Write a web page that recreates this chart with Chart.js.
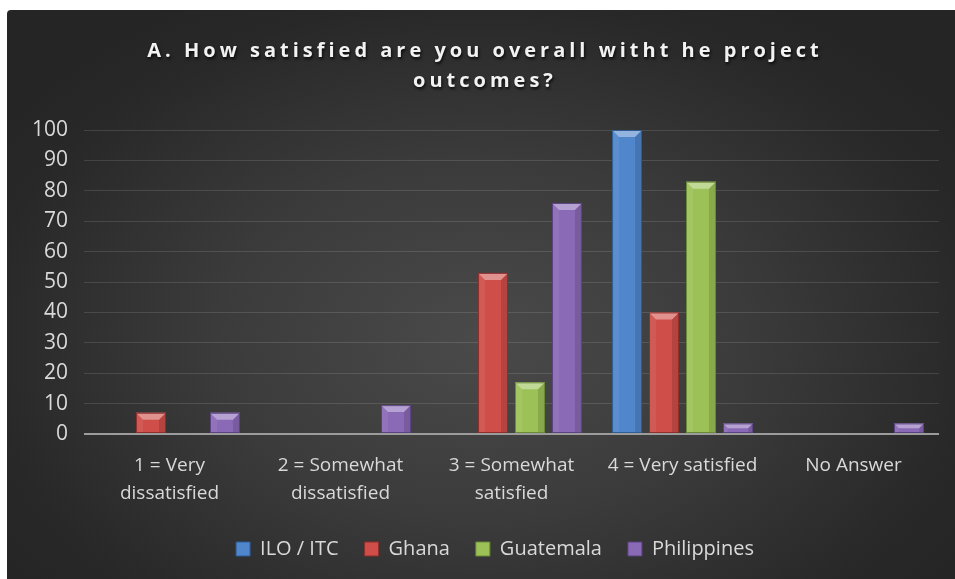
<!DOCTYPE html>
<html>
<head>
<meta charset="utf-8">
<script src="https://cdn.jsdelivr.net/npm/chart.js@4.4.1/dist/chart.umd.min.js"></script>
<style>
  html, body { margin:0; padding:0; background:#fff; }
  #box {
    position:absolute; left:7px; top:10px; width:948px; height:569px;
    border-radius:4px 0 0 0;
    background: radial-gradient(ellipse 62% 70% at 50% 58%, #4a4a4a 0%, #3b3b3b 45%, #282828 85%, #252525 100%);
  }
  #chart { display:block; }
</style>
</head>
<body>
<div id="box"><canvas id="chart" width="948" height="569"></canvas></div>
<script>
// ===== data =====
const categories = [
  ['1 = Very', 'dissatisfied'],
  ['2 = Somewhat', 'dissatisfied'],
  ['3 = Somewhat', 'satisfied'],
  '4 = Very satisfied',
  'No Answer'
];
const seriesNames = ['ILO / ITC', 'Ghana', 'Guatemala', 'Philippines'];
const iloItc      = [0, 0, 0, 100, 0];
const ghana       = [7, 0, 53, 40, 0];
const guatemala   = [0, 0, 17, 83, 0];
const philippines = [7, 9.5, 76, 3.5, 3.5];
const yTicks = [0, 10, 20, 30, 40, 50, 60, 70, 80, 90, 100];

const fills   = ['#4f86cc', '#cf4e49', '#9cc257', '#8a69b6'];
const borders = ['#2f5d93', '#8e2f2c', '#6b8a36', '#5b4280'];
const FONT = '"Open Sans", "Noto Sans", sans-serif';

// shift a layout box sideways when drawn (original is slightly off-centre)
function patchBox(chart, box, dx, extra){
  if(!box || box._patched) return;
  const orig = box.draw.bind(box);
  box.draw = function(area){
    const c = chart.ctx;
    c.save();
    c.translate(dx, 0);
    if(extra) extra(c);
    orig(area);
    c.restore();
  };
  box._patched = true;
}

// ===== bevel look on bars + spaced title =====
const bevelPlugin = {
  id: 'bevel',
  beforeDraw(chart){
    patchBox(chart, chart.titleBlock, 12, c=>{
      c.letterSpacing = '4px';
      c.shadowColor = 'rgba(0,0,0,0.8)';
      c.shadowOffsetX = 1; c.shadowOffsetY = 2; c.shadowBlur = 3;
    });
    patchBox(chart, chart.legend, 22);
  },
  afterDatasetsDraw(chart){
    const c = chart.ctx;
    chart.data.datasets.forEach((ds, di)=>{
      const meta = chart.getDatasetMeta(di);
      meta.data.forEach(bar=>{
        const h = bar.base - bar.y;
        if(h <= 0.5) return;
        const l = bar.x - bar.width/2, r = bar.x + bar.width/2, t = bar.y, b = bar.base;
        const bv = Math.min(7, h/2);
        c.save();
        c.fillStyle = 'rgba(255,255,255,0.07)';
        c.beginPath(); c.moveTo(l,t); c.lineTo(l+bv,t+bv); c.lineTo(l+bv,b); c.lineTo(l,b); c.closePath(); c.fill();
        c.fillStyle = 'rgba(0,0,0,0.12)';
        c.beginPath(); c.moveTo(r,t); c.lineTo(r-bv,t+bv); c.lineTo(r-bv,b); c.lineTo(r,b); c.closePath(); c.fill();
        c.fillStyle = 'rgba(255,255,255,0.38)';
        c.beginPath(); c.moveTo(l,t); c.lineTo(r,t); c.lineTo(r-bv,t+bv); c.lineTo(l+bv,t+bv); c.closePath(); c.fill();
        c.strokeStyle = borders[di];
        c.lineWidth = 1;
        c.strokeRect(l+0.5, t+0.5, bar.width-1, h-1);
        c.restore();
      });
    });
  }
};

const seriesData = [iloItc, ghana, guatemala, philippines];
const datasets = seriesNames.map((name, i)=>({
  label: name,
  data: seriesData[i],
  backgroundColor: fills[i],
  borderColor: borders[i],
  borderWidth: 0,
  categoryPercentage: 0.865,
  barPercentage: 0.81
}));

Chart.defaults.font.family = FONT;
Chart.defaults.color = '#d9d9d9';

new Chart(document.getElementById('chart'), {
  type: 'bar',
  data: { labels: categories, datasets },
  options: {
    responsive: false,
    animation: false,
    layout: { padding: { left: 0, right: 16, top: 0, bottom: 10 } },
    plugins: {
      title: {
        display: true,
        text: ['A. How satisfied are you overall witht he project', 'outcomes?'],
        color: '#f2f2f2',
        font: { size: 20, weight: 'bold', family: FONT, lineHeight: 1.5 },
        padding: { top: 26, bottom: 34 }
      },
      legend: {
        position: 'bottom',
        labels: {
          color: '#d9d9d9',
          font: { size: 20, family: FONT },
          boxWidth: 14,
          boxHeight: 14,
          padding: 26,
          generateLabels(chart){
            return chart.data.datasets.map((ds, i)=>({
              text: ds.label,
              fillStyle: fills[i],
              strokeStyle: borders[i],
              lineWidth: 1,
              fontColor: '#d9d9d9',
              datasetIndex: i
            }));
          }
        }
      },
      tooltip: { enabled: false }
    },
    scales: {
      x: {
        afterFit(scale){ scale.height = scale.height - 12; },
        grid: { display: false, drawTicks: false },
        border: { display: false },
        ticks: { color: '#d9d9d9', font: { size: 19, family: FONT, lineHeight: 1.5 }, padding: 17, maxRotation: 0, autoSkip: false }
      },
      y: {
        min: 0, max: 100,
        afterFit(scale){ scale.width = 77; },
        afterBuildTicks(scale){ scale.ticks = yTicks.map(v=>({ value: v })); },
        grid: {
          drawTicks: false,
          color: ctx => ctx.tick && ctx.tick.value === 0 ? '#9c9c9c' : 'rgba(255,255,255,0.12)',
          lineWidth: ctx => ctx.tick && ctx.tick.value === 0 ? 2 : 1
        },
        border: { display: false },
        ticks: { color: '#d9d9d9', font: { size: 21, family: FONT }, padding: 16 }
      }
    }
  },
  plugins: [bevelPlugin]
});
</script>
</body>
</html>
